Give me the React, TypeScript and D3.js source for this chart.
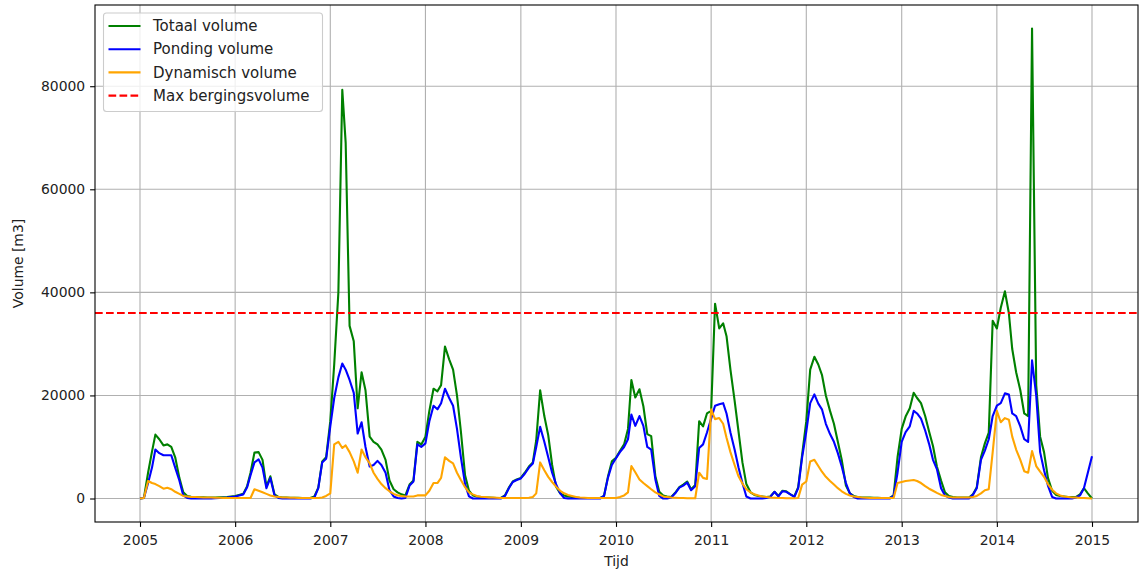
import React, { FC, useEffect, useRef } from "react"
import { select, line, axisLeft, axisBottom, scaleTime, scaleLinear, timeFormat } from "d3"

// x tick labels
const yearTicks = [2005, 2006, 2007, 2008, 2009, 2010, 2011, 2012, 2013, 2014, 2015]
// y tick labels
const volumeTicks = [0, 20000, 40000, 60000, 80000]

const maxBergingsvolume = 36000

// two readings per month (1st and 16th), 2005-01 .. 2015-01
const dates: Date[] = []
for (let y = 2005; y < 2015; y++) {
  for (let m = 0; m < 12; m++) {
    dates.push(new Date(y, m, 1))
    dates.push(new Date(y, m, 16))
  }
}
dates.push(new Date(2015, 0, 1))

// m3, one row per year
const totaalVolume = [
  0, 100, 5000, 9100, 12400, 11500, 10300, 10500, 10000, 8000, 4000, 1200, 500, 350, 300, 250, 250, 200, 200, 200, 250, 250, 300, 400,
  500, 700, 900, 2400, 5000, 8900, 9000, 7500, 2300, 4300, 800, 300, 200, 200, 150, 150, 150, 100, 100, 100, 400, 2100, 7200, 8000,
  15000, 26000, 40000, 79300, 69000, 33500, 30500, 17500, 24500, 21000, 12000, 11000, 10500, 9500, 7500, 3500, 1800, 1200, 800, 600, 2700, 3500, 11000, 10500,
  12000, 17000, 21300, 20800, 22000, 29500, 27000, 25000, 20000, 13000, 4500, 1500, 600, 400, 300, 200, 200, 150, 100, 100, 600, 2100, 3300, 3700,
  4000, 5000, 6200, 7000, 11300, 21000, 16000, 12300, 6500, 2300, 1000, 600, 400, 300, 200, 100, 100, 100, 100, 100, 100, 500, 4200, 7200,
  7900, 9200, 10500, 13500, 23000, 19600, 21200, 17900, 12500, 12100, 4300, 1300, 600, 400, 300, 1100, 2200, 2700, 3300, 1800, 2600, 15000, 14000, 16500,
  17000, 37800, 33000, 34000, 31500, 25000, 19000, 13000, 7000, 2800, 1200, 700, 500, 400, 300, 400, 1300, 500, 1500, 1400, 800, 400, 2200, 8500,
  15000, 25000, 27500, 26000, 24000, 20000, 17000, 14500, 11000, 7500, 2500, 1000, 500, 300, 200, 200, 200, 150, 150, 100, 100, 100, 600, 8000,
  13500, 15900, 17500, 20500, 19500, 18500, 16000, 13000, 10200, 6200, 3500, 1200, 500, 300, 200, 200, 200, 200, 800, 2200, 8000, 10700, 12800, 34500,
  33000, 37000, 40200, 36000, 29000, 24500, 21000, 16500, 16000, 91200, 22000, 12000, 9000, 4000, 1500, 700, 500, 400, 300, 300, 300, 800, 2000, 1000,
  0,
]

const pondingVolume = [
  0, 100, 3000, 6000, 9500, 8800, 8400, 8400, 8400, 6000, 3500, 600, 100, 0, 0, 0, 0, 0, 0, 50, 100, 150, 200, 300,
  400, 600, 800, 2200, 4500, 7000, 7600, 6000, 2000, 4000, 600, 100, 0, 0, 0, 0, 0, 0, 0, 0, 200, 2000, 7000, 7700,
  14000, 19500, 23500, 26200, 25000, 23000, 20500, 12600, 14800, 10000, 6200, 6500, 7300, 6500, 5000, 1600, 400, 100, 0, 100, 2500, 3300, 10500, 10000,
  10700, 15000, 18000, 17300, 18500, 21300, 19500, 18000, 13500, 8000, 2800, 400, 0, 0, 0, 0, 0, 0, 0, 0, 500, 2000, 3200, 3600,
  3900, 4800, 6000, 6800, 10000, 13900, 11000, 8000, 5000, 2800, 1000, 100, 0, 0, 0, 0, 0, 0, 0, 0, 0, 500, 4000, 6500,
  7800, 9000, 10000, 11500, 16300, 14100, 16000, 14100, 10000, 9500, 3700, 500, 0, 0, 200, 1000, 2100, 2500, 3100, 1600, 2400, 9800, 10500, 12800,
  15500, 18000, 18300, 18500, 16500, 12800, 9500, 6000, 3000, 400, 0, 0, 0, 0, 100, 300, 1300, 400, 1400, 1300, 800, 300, 2000, 8000,
  13000, 18500, 20200, 18400, 17300, 14500, 12500, 11000, 8800, 6200, 3000, 1000, 300, 0, 0, 0, 0, 0, 0, 0, 0, 0, 500, 5000,
  11000, 12900, 14000, 17000, 16500, 15500, 13200, 10600, 7500, 5700, 2000, 600, 200, 0, 0, 0, 0, 0, 700, 2000, 7500, 9300, 11500, 16000,
  18000, 18500, 20400, 20200, 16500, 16000, 14000, 11500, 11000, 26800, 20000, 9000, 5500, 2500, 300, 0, 0, 0, 0, 0, 200, 600, 2000, 5000,
  8200,
]

const dynamischVolume = [
  0, 100, 3400, 3000, 2800, 2400, 1900, 2100, 1800, 1300, 900, 500, 400, 300, 300, 250, 200, 200, 200, 150, 150, 100, 100, 100,
  100, 100, 100, 100, 100, 1800, 1500, 1200, 900, 600, 400, 300, 200, 200, 150, 150, 100, 100, 100, 100, 100, 100, 200, 500,
  1000, 10500, 11000, 9800, 10300, 9000, 7200, 5000, 9500, 8000, 6800, 5000, 3800, 2800, 2000, 1400, 900, 600, 500, 400, 400, 400, 600, 600,
  600, 1500, 3000, 3000, 4000, 8000, 7300, 6800, 5000, 3600, 2200, 1200, 800, 500, 350, 300, 200, 200, 150, 100, 100, 100, 100, 100,
  100, 100, 150, 300, 1000, 7000, 5500, 4200, 3200, 2300, 1500, 1000, 700, 500, 300, 200, 150, 100, 100, 100, 100, 100, 100, 100,
  100, 300, 600, 1200, 6300, 5100, 3700, 3000, 2400, 1800, 1200, 800, 400, 300, 200, 150, 100, 100, 50, 50, 50, 5000, 4000, 3800,
  17300, 15400, 15600, 14500, 11800, 9000, 6500, 4300, 2900, 1800, 1200, 800, 600, 400, 300, 200, 150, 100, 100, 50, 50, 50, 100, 2700,
  3300, 7200, 7500, 6300, 5200, 4200, 3400, 2700, 2000, 1400, 900, 600, 400, 300, 200, 150, 100, 100, 100, 100, 100, 100, 100, 3000,
  3200, 3400, 3500, 3600, 3400, 3000, 2400, 1900, 1500, 1100, 700, 500, 300, 200, 200, 200, 200, 200, 300, 500, 1000, 1600, 1800, 9000,
  17000, 14800, 15600, 15300, 12000, 9500, 7500, 5300, 5000, 9200, 6300, 5200, 4200, 2800, 1700, 1000, 600, 400, 300, 200, 200, 100, 100, 50,
  0,
]

const series = [
  { label: "Totaal volume", color: "green", values: totaalVolume },
  { label: "Ponding volume", color: "blue", values: pondingVolume },
  { label: "Dynamisch volume", color: "orange", values: dynamischVolume },
]

const FONT = "DejaVu Sans, sans-serif"

const VolumeChart: FC = () => {
  const svgRef = useRef<SVGSVGElement>(null)

  useEffect(() => {
    const svg = select(svgRef.current)
    svg.selectAll("*").remove()

    // 1. dimensions
    const frame = { left: 95, right: 1138, top: 5, bottom: 522 }

    // 2. scales
    const xScale = scaleTime()
      .domain([new Date(2005, 0, 1), new Date(2015, 0, 1)])
      .range([140, 1092])
    const yScale = scaleLinear().domain([-4560, 95760]).range([frame.bottom, frame.top])

    const yearDates = yearTicks.map((y) => new Date(y, 0, 1))

    // 3. grid
    const grid = svg.append("g").attr("stroke", "#b0b0b0").attr("stroke-width", 1.1)
    grid
      .selectAll("line.gx")
      .data(yearDates)
      .join("line")
      .attr("x1", (d) => xScale(d))
      .attr("x2", (d) => xScale(d))
      .attr("y1", frame.top)
      .attr("y2", frame.bottom)
    grid
      .selectAll("line.gy")
      .data(volumeTicks)
      .join("line")
      .attr("x1", frame.left)
      .attr("x2", frame.right)
      .attr("y1", (d) => yScale(d))
      .attr("y2", (d) => yScale(d))

    // 4. data
    const lineGen = line<number>()
      .x((_, i) => xScale(dates[i]))
      .y((d) => yScale(d))

    series.forEach((s) => {
      svg
        .append("path")
        .datum(s.values)
        .attr("d", lineGen)
        .attr("fill", "none")
        .attr("stroke", s.color)
        .attr("stroke-width", 2.1)
        .attr("stroke-linejoin", "round")
    })

    svg
      .append("line")
      .attr("x1", frame.left)
      .attr("x2", frame.right)
      .attr("y1", yScale(maxBergingsvolume))
      .attr("y2", yScale(maxBergingsvolume))
      .attr("stroke", "red")
      .attr("stroke-width", 2.1)
      .attr("stroke-dasharray", "7.7 3.3")

    // 5. axes
    const xAxis = svg
      .append("g")
      .attr("transform", `translate(0,${frame.bottom})`)
      .call(
        axisBottom(xScale)
          .tickValues(yearDates)
          .tickFormat((d) => timeFormat("%Y")(d as Date))
          .tickSize(4.9)
          .tickPadding(4.9),
      )
    xAxis.select(".domain").remove()
    xAxis.attr("font-family", FONT).attr("font-size", 13.9)
    xAxis.selectAll("line").attr("stroke", "#000").attr("stroke-width", 1.1)
    xAxis.selectAll("text").attr("fill", "#222").attr("dy", "0.95em")

    const yAxis = svg
      .append("g")
      .attr("transform", `translate(${frame.left},0)`)
      .call(axisLeft(yScale).tickValues(volumeTicks).tickFormat((d) => String(d)).tickSize(4.9).tickPadding(4.9))
    yAxis.select(".domain").remove()
    yAxis.attr("font-family", FONT).attr("font-size", 13.9)
    yAxis.selectAll("line").attr("stroke", "#000").attr("stroke-width", 1.1)
    yAxis.selectAll("text").attr("fill", "#222")

    svg
      .append("rect")
      .attr("x", frame.left)
      .attr("y", frame.top)
      .attr("width", frame.right - frame.left)
      .attr("height", frame.bottom - frame.top)
      .attr("fill", "none")
      .attr("stroke", "#000")
      .attr("stroke-width", 1.1)

    // 6. labels
    svg
      .append("text")
      .text("Tijd")
      .attr("x", (frame.left + frame.right) / 2)
      .attr("y", 566)
      .attr("text-anchor", "middle")
      .attr("font-family", FONT)
      .attr("font-size", 13.9)
      .attr("fill", "#222")

    svg
      .append("text")
      .text("Volume [m3]")
      .attr("transform", `translate(23,${(frame.top + frame.bottom) / 2}) rotate(-90)`)
      .attr("text-anchor", "middle")
      .attr("font-family", FONT)
      .attr("font-size", 13.9)
      .attr("fill", "#222")

    // 7. legend
    const legendItems = [
      ...series.map((s) => ({ label: s.label, color: s.color, dash: "none" })),
      { label: "Max bergingsvolume", color: "red", dash: "7.7 3.3" },
    ]
    const legend = svg.append("g")
    legend
      .append("rect")
      .attr("x", 103.5)
      .attr("y", 13)
      .attr("width", 219)
      .attr("height", 98.5)
      .attr("rx", 3)
      .attr("fill", "#fff")
      .attr("fill-opacity", 0.8)
      .attr("stroke", "#cccccc")
      .attr("stroke-width", 1.1)
    const rows = legend
      .selectAll("g.row")
      .data(legendItems)
      .join("g")
      .attr("transform", (_, i) => `translate(0,${26 + i * 23.2})`)
    rows
      .append("line")
      .attr("x1", 108.5)
      .attr("x2", 140.5)
      .attr("stroke", (d) => d.color)
      .attr("stroke-width", 2.1)
      .attr("stroke-dasharray", (d) => d.dash)
    rows
      .append("text")
      .text((d) => d.label)
      .attr("x", 153)
      .attr("dy", "0.35em")
      .attr("font-family", FONT)
      .attr("font-size", 15)
      .attr("fill", "#222")
  }, [])

  return (
    <svg
      ref={svgRef}
      width={1140}
      height={573}
      style={{ position: "absolute", left: 0, top: 0, background: "#fff" }}
    />
  )
}

export default function App() {
  return <VolumeChart />
}
